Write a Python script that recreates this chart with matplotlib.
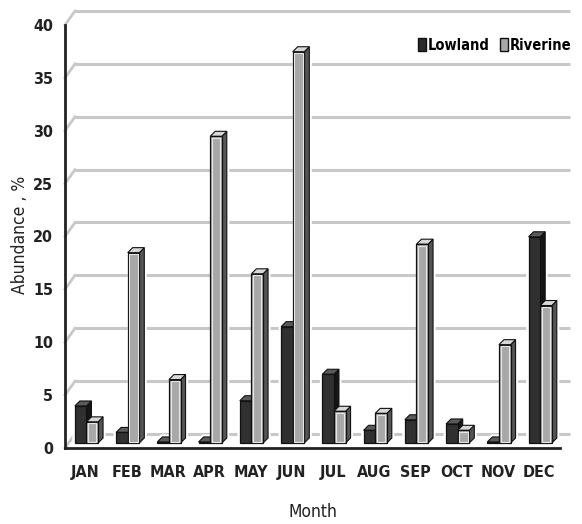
import matplotlib
matplotlib.use("Agg")
import matplotlib.pyplot as plt
from matplotlib.patches import Polygon, Rectangle, Patch

months = ["JAN", "FEB", "MAR", "APR", "MAY", "JUN", "JUL", "AUG", "SEP", "OCT", "NOV", "DEC"]
lowland = [3.5, 1.0, 0.1, 0.1, 4.0, 11.0, 6.5, 1.2, 2.2, 1.8, 0.1, 19.5]
riverine = [2.0, 18.0, 6.0, 29.0, 16.0, 37.0, 3.0, 2.8, 18.8, 1.2, 9.3, 13.0]
yticks = [0, 5, 10, 15, 20, 25, 30, 35, 40]

FONT = ["DejaVu Sans"]
plt.rcParams["font.family"] = FONT
plt.rcParams["font.stretch"] = "condensed"

W, H = 582, 524
fig = plt.figure(figsize=(W / 100, H / 100), dpi=100)
ax_l, ax_r, ax_t, ax_b = 65, 560, 25, 448
ax = fig.add_axes([ax_l / W, 1 - ax_b / H, (ax_r - ax_l) / W, (ax_b - ax_t) / H])
ax.set_xlim(-0.5, len(months) - 0.5)
ax.set_ylim(0, 40)

pxx = (ax_r - ax_l) / len(months)
pxy = (ax_b - ax_t) / 40.0

gx, gy = 10 / pxx, 14 / pxy
xmax_back = -0.5 + (570 - ax_l) / pxx
for v in yticks:
    ax.plot([-0.5, -0.5 + gx], [v, v + gy], color="#c8c8c8", lw=2, clip_on=False, zorder=1)
    ax.plot([-0.5 + gx, xmax_back], [v + gy, v + gy], color="#c8c8c8", lw=2.2,
            clip_on=False, zorder=1, solid_capstyle="butt")

bw = 11.6 / pxx
dx, dy = 5 / pxx, 5 / pxy
base = 5 / pxy
styles = {
    "Lowland": dict(front="#303030", top="#5a5a5a", side="#151515", halo_left=2.5),
    "Riverine": dict(front="#a8a8a8", top="#d8d8d8", side="#555555", halo_left=0.0),
}

def draw_bar(x0, val, st, z, light_edge):
    y0 = base
    y1 = base + val
    hl = st["halo_left"] / pxx
    halo = Polygon([(x0 - hl, y0), (x0 - hl, y1 + 2 / pxy),
                    (x0 + dx - 1 / pxx, y1 + dy + 2.5 / pxy), (x0 + bw + dx + 2.5 / pxx, y1 + dy + 2.5 / pxy),
                    (x0 + bw + dx + 2.5 / pxx, y0)], closed=True,
                   facecolor="white", edgecolor="none", zorder=2, clip_on=False)
    ax.add_patch(halo)
    side = Polygon([(x0 + bw, y0), (x0 + bw + dx, y0 + dy), (x0 + bw + dx, y1 + dy), (x0 + bw, y1)],
                   closed=True, facecolor=st["side"], edgecolor="#111111", lw=0.8, zorder=z, clip_on=False)
    top = Polygon([(x0, y1), (x0 + bw, y1), (x0 + bw + dx, y1 + dy), (x0 + dx, y1 + dy)],
                  closed=True, facecolor=st["top"], edgecolor="#111111", lw=0.8, zorder=z, clip_on=False)
    ax.add_patch(side)
    ax.add_patch(top)
    ax.bar(x0, val, width=bw, bottom=y0, align="edge", color=st["front"],
           edgecolor="#111111", lw=0.9, zorder=z, clip_on=False)
    if light_edge and val * pxy > 4:
        ax.add_patch(Rectangle((x0 + 1.6 / pxx, y0 + 1.5 / pxy), bw - 3.2 / pxx, val - 3 / pxy,
                               facecolor="none", edgecolor="#e6e6e6", lw=0.8, zorder=z + 0.1, clip_on=False))

for i in range(len(months)):
    draw_bar(i - bw + 0.02, lowland[i], styles["Lowland"], 3 + i * 0.01, False)
    draw_bar(i + 0.02, riverine[i], styles["Riverine"], 4 + i * 0.01, True)

for s in ["top", "right"]:
    ax.spines[s].set_visible(False)
for s in ["left", "bottom"]:
    ax.spines[s].set_linewidth(2)
    ax.spines[s].set_color("#222222")
    ax.spines[s].set_zorder(10)

ax.set_yticks(yticks)
ax.set_yticklabels([str(v) for v in yticks])
ax.set_xticks(range(len(months)))
ax.set_xticklabels(months)
ax.tick_params(axis="both", length=0, labelsize=11.5, colors="#222222")
ax.tick_params(axis="y", pad=8.5)
ax.tick_params(axis="x", pad=12)
for lab in ax.get_xticklabels() + ax.get_yticklabels():
    lab.set_fontweight("bold")

fig.text(20 / W, 1 - 235 / H, "Abundance , %", rotation=90, ha="center", va="center",
         fontsize=12.5, color="#222222")
fig.text(313 / W, 1 - 512 / H, "Month", ha="center", va="center", fontsize=12.5, color="#222222")

handles = [Patch(facecolor="#2a2a2a", edgecolor="#111111", label="Lowland"),
           Patch(facecolor="#a8a8a8", edgecolor="#111111", label="Riverine")]
leg = fig.legend(handles=handles, loc="center right", bbox_to_anchor=(579 / W, 1 - 45 / H),
                 ncol=2, frameon=False, handlelength=0.55, handleheight=1.0, handletextpad=0.15,
                 columnspacing=0.7, prop=dict(family=FONT, size=10.5, weight="bold", stretch="condensed"),
                 borderpad=0)

fig.savefig("out.png", dpi=100)
